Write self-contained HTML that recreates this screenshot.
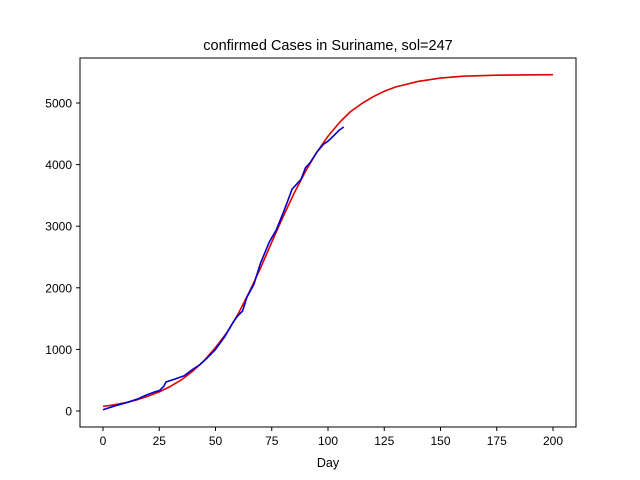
<!DOCTYPE html>
<html><head><meta charset="utf-8"><style>
body{margin:0;background:#fff;}
svg{display:block;font-family:"Liberation Sans","DejaVu Sans",sans-serif;}
</style></head><body>
<svg id="chart" width="640" height="480">
<rect width="640" height="480" fill="#fff"/>
<text x="328" y="50" font-size="14.5" text-anchor="middle">confirmed Cases in Suriname, sol=247</text>
<g id="ticks"></g>
<g id="series"></g>
<rect x="80" y="58" width="496" height="369" fill="none" stroke="#000" stroke-width="1"/>
<text x="328" y="467" font-size="12.5" text-anchor="middle">Day</text>
</svg>
<script>
const xTicks=[0,25,50,75,100,125,150,175,200];
const yTicks=[0,1000,2000,3000,4000,5000];
const fitDays=[0,5,10,15,20,25,30,35,40,45,50,55,60,65,70,75,80,85,90,95,100,105,110,115,120,125,130,140,150,160,175,200];
const fitCases=[75,100,135,180,240,310,400,510,650,820,1030,1270,1570,1930,2320,2740,3150,3540,3890,4200,4460,4680,4860,4990,5100,5190,5260,5350,5405,5435,5452,5460];
const obsDays=[0,5,10,15,20,23,25,27,28,32,36,40,43,46,50,54,58,60,62,64,67,70,74,77,80,82,84,86,88,90,92,95,98,100,102,105,107];
const obsCases=[20,80,130,190,270,310,330,400,470,520,570,680,750,850,1000,1200,1450,1550,1620,1850,2050,2400,2750,2940,3210,3400,3600,3680,3760,3950,4030,4200,4330,4380,4450,4560,4610];
const NS="http://www.w3.org/2000/svg";
const sx=d=>103+d*2.25;
const sy=v=>411-v*0.0616;
const tg=document.getElementById('ticks');
function mk(tag,attrs,parent){const e=document.createElementNS(NS,tag);for(const k in attrs)e.setAttribute(k,attrs[k]);parent.appendChild(e);return e;}
xTicks.forEach(t=>{
 const l=mk('line',{x1:sx(t),x2:sx(t),y1:427,y2:431,stroke:'#000'},tg);
 
 
 const tx=mk('text',{x:sx(t),y:445,'font-size':12,'text-anchor':'middle'},tg);tx.textContent=t;
 
 
});
yTicks.forEach(t=>{
 const l=mk('line',{x1:76,x2:80,y1:sy(t),y2:sy(t),stroke:'#000'},tg);
 
 
 const tx=mk('text',{x:72,y:sy(t)+4.5,'font-size':12,'text-anchor':'end'},tg);tx.textContent=t;
 
 
});
const sg=document.getElementById('series');
const fit=mk('polyline',{points:fitDays.map((d,i)=>sx(d)+','+sy(fitCases[i])).join(' '),fill:'none',stroke:'#e00000','stroke-width':1.6,'stroke-linejoin':'round'},sg);


const obs=mk('polyline',{points:obsDays.map((d,i)=>sx(d)+','+sy(obsCases[i])).join(' '),fill:'none',stroke:'#0000cc','stroke-width':1.6,'stroke-linejoin':'round'},sg);


</script>
</body></html>
